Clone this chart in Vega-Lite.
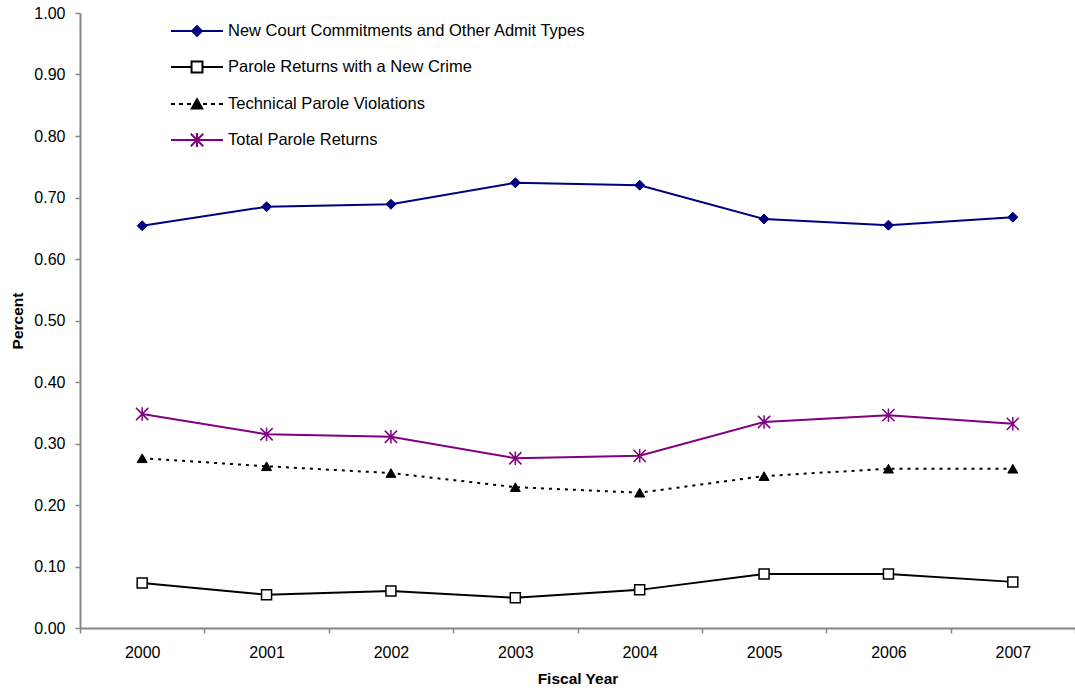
{
  "$schema": "https://vega.github.io/schema/vega-lite/v6.json",
  "width": 995,
  "height": 615,
  "autosize": "none",
  "padding": {"left": 80, "top": 13, "right": 0, "bottom": 62},
  "background": "white",
  "config": {
    "view": {"stroke": null},
    "font": "Liberation Sans",
    "axis": {
      "grid": false,
      "domainColor": "#868686",
      "domainWidth": 2,
      "tickColor": "#868686",
      "tickWidth": 1.5,
      "labelColor": "black",
      "labelFont": "Liberation Sans",
      "labelFontSize": 16,
      "titleFont": "Liberation Sans",
      "titleColor": "black",
      "titleFontSize": 15.5,
      "titleFontWeight": "bold"
    }
  },
  "data": {
    "values": [
      {"year": "2000", "series": "New Court Commitments and Other Admit Types", "value": 0.654},
      {"year": "2001", "series": "New Court Commitments and Other Admit Types", "value": 0.685},
      {"year": "2002", "series": "New Court Commitments and Other Admit Types", "value": 0.689},
      {"year": "2003", "series": "New Court Commitments and Other Admit Types", "value": 0.724},
      {"year": "2004", "series": "New Court Commitments and Other Admit Types", "value": 0.720},
      {"year": "2005", "series": "New Court Commitments and Other Admit Types", "value": 0.665},
      {"year": "2006", "series": "New Court Commitments and Other Admit Types", "value": 0.655},
      {"year": "2007", "series": "New Court Commitments and Other Admit Types", "value": 0.668},
      {"year": "2000", "series": "Parole Returns with a New Crime", "value": 0.073},
      {"year": "2001", "series": "Parole Returns with a New Crime", "value": 0.054},
      {"year": "2002", "series": "Parole Returns with a New Crime", "value": 0.060},
      {"year": "2003", "series": "Parole Returns with a New Crime", "value": 0.049},
      {"year": "2004", "series": "Parole Returns with a New Crime", "value": 0.062},
      {"year": "2005", "series": "Parole Returns with a New Crime", "value": 0.088},
      {"year": "2006", "series": "Parole Returns with a New Crime", "value": 0.088},
      {"year": "2007", "series": "Parole Returns with a New Crime", "value": 0.075},
      {"year": "2000", "series": "Technical Parole Violations", "value": 0.276},
      {"year": "2001", "series": "Technical Parole Violations", "value": 0.263},
      {"year": "2002", "series": "Technical Parole Violations", "value": 0.252},
      {"year": "2003", "series": "Technical Parole Violations", "value": 0.229},
      {"year": "2004", "series": "Technical Parole Violations", "value": 0.220},
      {"year": "2005", "series": "Technical Parole Violations", "value": 0.247},
      {"year": "2006", "series": "Technical Parole Violations", "value": 0.259},
      {"year": "2007", "series": "Technical Parole Violations", "value": 0.259},
      {"year": "2000", "series": "Total Parole Returns", "value": 0.348},
      {"year": "2001", "series": "Total Parole Returns", "value": 0.315},
      {"year": "2002", "series": "Total Parole Returns", "value": 0.311},
      {"year": "2003", "series": "Total Parole Returns", "value": 0.276},
      {"year": "2004", "series": "Total Parole Returns", "value": 0.280},
      {"year": "2005", "series": "Total Parole Returns", "value": 0.335},
      {"year": "2006", "series": "Total Parole Returns", "value": 0.346},
      {"year": "2007", "series": "Total Parole Returns", "value": 0.332}
    ]
  },
  "encoding": {
    "x": {
      "field": "year",
      "type": "ordinal",
      "scale": {"type": "band", "paddingInner": 0, "paddingOuter": 0},
      "axis": {
        "title": "Fiscal Year",
        "labelAngle": 0,
        "tickBand": "extent",
        "tickSize": 5,
        "labelPadding": 11,
        "titlePadding": 11
      }
    },
    "y": {
      "field": "value",
      "type": "quantitative",
      "scale": {"domain": [0, 1], "nice": false, "zero": true},
      "axis": {
        "title": "Percent",
        "values": [0, 0.1, 0.2, 0.3, 0.4, 0.5, 0.6, 0.7, 0.8, 0.9, 1.0],
        "format": ".2f",
        "tickSize": 5,
        "labelPadding": 10,
        "titlePadding": 8
      }
    }
  },
  "layer": [
    {
      "transform": [{"filter": "datum.series === 'New Court Commitments and Other Admit Types'"}],
      "mark": {"type": "line", "color": "#000080", "strokeWidth": 2},
      "encoding": {}
    },
    {
      "transform": [{"filter": "datum.series === 'Parole Returns with a New Crime'"}],
      "mark": {"type": "line", "color": "#000000", "strokeWidth": 2},
      "encoding": {}
    },
    {
      "transform": [{"filter": "datum.series === 'Technical Parole Violations'"}],
      "mark": {"type": "line", "color": "#000000", "strokeWidth": 2, "strokeDash": [3, 5]},
      "encoding": {}
    },
    {
      "transform": [{"filter": "datum.series === 'Total Parole Returns'"}],
      "mark": {"type": "line", "color": "#800080", "strokeWidth": 2},
      "encoding": {}
    },
    {
      "mark": {"type": "point", "opacity": 0},
      "encoding": {
        "color": {
          "field": "series",
          "type": "nominal",
          "scale": {
            "domain": ["New Court Commitments and Other Admit Types", "Parole Returns with a New Crime", "Technical Parole Violations", "Total Parole Returns"],
            "range": ["#000080", "#000000", "#000000", "#800080"]
          },
          "legend": {
            "orient": "none",
            "legendX": 90,
            "legendY": -9,
            "title": null,
            "padding": 0,
            "rowPadding": -1.5,
            "labelFont": "Liberation Sans",
            "labelFontSize": 16.5,
            "labelColor": "black",
            "labelOffset": 4,
            "labelLimit": 600,
            "symbolSize": 2704,
            "symbolStrokeWidth": 2,
            "symbolOpacity": 1
          }
        },
        "shape": {
          "field": "series",
          "type": "nominal",
          "scale": {
            "domain": ["New Court Commitments and Other Admit Types", "Parole Returns with a New Crime", "Technical Parole Violations", "Total Parole Returns"],
            "range": [
              "M-1,0L1,0M-0.19,0L0,-0.19L0.19,0L0,0.19ZM-0.13,-0.06L0.13,-0.06M-0.13,0.06L0.13,0.06M-0.07,-0.12L0.07,-0.12M-0.07,0.12L0.07,0.12",
              "M-1,0L-0.21,0M0.21,0L1,0M-0.21,-0.21L0.21,-0.21L0.21,0.21L-0.21,0.21Z",
              "M-1,0L-0.846,0M-0.692,0L-0.538,0M-0.385,0L-0.231,0M0.231,0L0.385,0M0.538,0L0.692,0M0.846,0L1,0M0,-0.18L0.2,0.17L-0.2,0.17ZM-0.17,0.12L0.17,0.12M-0.14,0.06L0.14,0.06M-0.1,0L0.1,0M-0.07,-0.06L0.07,-0.06M-0.03,-0.12L0.03,-0.12",
              "M-1,0L1,0M-0.24,-0.24L0.24,0.24M-0.24,0.24L0.24,-0.24M0,-0.27L0,0.27"
            ]
          },
          "legend": {
            "orient": "none",
            "legendX": 90,
            "legendY": -9,
            "title": null,
            "padding": 0,
            "rowPadding": -1.5,
            "labelFont": "Liberation Sans",
            "labelFontSize": 16.5,
            "labelColor": "black",
            "labelOffset": 4,
            "labelLimit": 600,
            "symbolSize": 2704,
            "symbolStrokeWidth": 2,
            "symbolOpacity": 1
          }
        }
      }
    },
    {
      "transform": [{"filter": "datum.series === 'New Court Commitments and Other Admit Types'"}],
      "mark": {"type": "point", "shape": "diamond", "size": 100, "fill": "#000080", "stroke": "#000080", "strokeWidth": 1, "opacity": 1}
    },
    {
      "transform": [{"filter": "datum.series === 'Parole Returns with a New Crime'"}],
      "mark": {"type": "point", "shape": "square", "size": 100, "fill": "#ffffff", "stroke": "#000000", "strokeWidth": 1.5, "opacity": 1}
    },
    {
      "transform": [{"filter": "datum.series === 'Technical Parole Violations'"}],
      "mark": {"type": "point", "shape": "triangle-up", "size": 100, "fill": "#000000", "stroke": "#000000", "strokeWidth": 1, "opacity": 1}
    },
    {
      "transform": [{"filter": "datum.series === 'Total Parole Returns'"}],
      "mark": {"type": "point", "shape": "M-1,-1L1,1M-1,1L1,-1M0,-1.1L0,1.1", "size": 150, "fill": "transparent", "stroke": "#800080", "strokeWidth": 1.5, "opacity": 1}
    }
  ]
}
